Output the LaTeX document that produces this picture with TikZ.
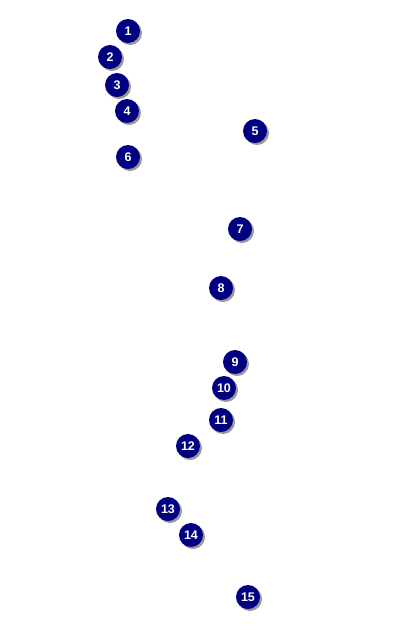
\documentclass[tikz,border=0pt]{standalone}
\usepackage{fontspec}
\setmainfont{Liberation Sans}
\usetikzlibrary{shadows}
\definecolor{dotnavy}{RGB}{0,0,128}
\tikzset{
  numdot/.style={circle,fill=dotnavy,minimum size=24pt,inner sep=0pt,text=white,
    font=\fontsize{12.5}{12.5}\selectfont\bfseries,
    drop shadow={shadow xshift=2pt,shadow yshift=-2pt,fill=black!40,opacity=1}}
}
\begin{document}
\begin{tikzpicture}[x=1pt,y=-1pt]
\useasboundingbox (0,0) rectangle (415,633);
\foreach \n/\x/\y in {
  1/128/31, 2/110/57, 3/117/85, 4/127/111, 5/255/131,
  6/128/157, 7/240/229, 8/221/288, 9/235/362, 10/224/388,
  11/221/420, 12/188/446, 13/168/509, 14/191/535, 15/248/597%
}{
  \node[numdot] (n\n) at (\x,\y) {\n};
}
\end{tikzpicture}
\end{document}
